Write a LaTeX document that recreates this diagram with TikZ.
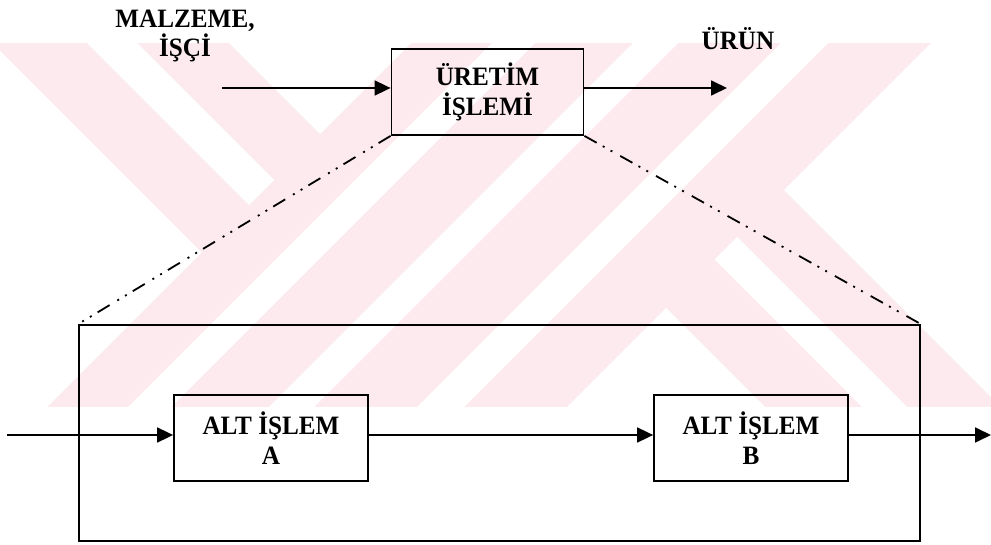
\documentclass[tikz,border=0pt]{standalone}
\usepackage{fontspec}
\setmainfont{Liberation Serif}[FakeStretch=0.95]
\usetikzlibrary{arrows.meta}
\definecolor{wm}{RGB}{253,234,238}
\begin{document}
\begin{tikzpicture}[x=1pt,y=-1pt,
  txt/.style={font=\fontsize{26.5}{29.5}\selectfont\bfseries, inner sep=0pt, align=center},
  box/.style={txt, draw, line width=1.8pt, minimum height=86pt},
  arr/.style={line width=1.8pt, -{Triangle[length=16pt,width=15pt]}},
  zoomline/.style={line width=1.8pt, dash pattern=on 14pt off 7pt on 2pt off 7pt on 2pt off 9pt}]
\useasboundingbox (0,0) rectangle (991,545);
\fill[white] (0,0) rectangle (991,545);
% watermark
\begin{scope}
  \clip (0,43.5) rectangle (991,406.7);
  \fill[wm] (0,43.5) rectangle (991,406.7);
  \fill[white] (0,51) -- (201.5,252.5) -- (0,454) -- cycle;
  \fill[white] (186,0) -- (320,134) -- (454,0) -- cycle;
  \fill[white] (44,0) -- (94,0) -- (274,180) -- (249,205) -- cycle;
  \foreach \a/\b in {535/578, 676/721, 824/871}
    \fill[white] (\a,0) -- (\b,0) -- (\b-450,450) -- (\a-450,450) -- cycle;
  \fill[white] (974,0) -- (1100,0) -- (1100,506) -- (784,190) -- cycle;
  \fill[white] (666,308) -- (866,508) -- (466,508) -- cycle;
  \fill[white] (714.5,259.5) -- (737,237) -- (1000,500) -- (955,500) -- cycle;
\end{scope}
% nodes
\node[box, minimum width=192pt] (top) at (487.5,92) {ÜRETİM\\İŞLEMİ};
\node[draw, line width=1.8pt, minimum width=841pt, minimum height=216pt, inner sep=0pt] (outer) at (499.5,433) {};
\node[box, minimum width=194pt] (A) at (271,438) {ALT İŞLEM\\A};
\node[box, minimum width=194pt] (B) at (751,438) {ALT İŞLEM\\B};
\node[txt, anchor=north] (mat) at (185,9.5) {MALZEME,\\İŞÇİ};
\node[txt, anchor=base] (urun) at (738,50) {ÜRÜN};
% connectors
\coordinate (in1) at (222,88);
\coordinate (out1) at (727,88);
\coordinate (l0) at (7,435);
\coordinate (r0) at (991,435);
\draw[arr] (in1) -- (in1 -| top.west);
\draw[arr] (top.east |- out1) -- (out1);
\draw[arr] (l0) -- (A.west |- l0);
\draw[arr] (A.east |- l0) -- (B.west |- l0);
\draw[arr] (B.east |- l0) -- (r0);
\draw[zoomline] (top.south west) -- (outer.north west);
\draw[zoomline] (top.south east) -- (outer.north east);
\end{tikzpicture}
\end{document}
